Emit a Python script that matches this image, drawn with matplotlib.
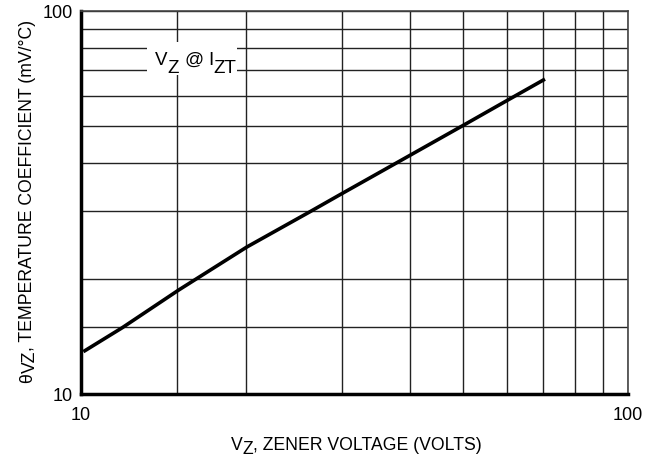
import matplotlib
matplotlib.use("Agg")
import matplotlib.pyplot as plt
from matplotlib.ticker import FixedLocator, NullFormatter
from matplotlib.transforms import IdentityTransform
from matplotlib.patches import Rectangle

plt.rcParams['font.family'] = ['Liberation Sans', 'DejaVu Sans']

# Data
vz = [10.1, 11.9, 15.1, 20.1, 26.2, 29.7, 38.3, 50.0, 60.5, 70.5]
tc = [12.9, 14.9, 18.7, 24.2, 29.9, 33.1, 40.6, 50.3, 58.7, 66.4]

x_major = [10, 100]
y_major = [10, 100]
x_minor = [15, 20, 30, 40, 50, 60, 70, 80, 90]
y_minor = [15, 20, 30, 40, 50, 60, 70, 80, 90]

W, H = 653, 461
fig = plt.figure(figsize=(W / 100, H / 100), dpi=100)
ax = fig.add_axes([81 / W, 67 / H, 547 / W, 383 / H])
ax.set_xscale('log')
ax.set_yscale('log')
ax.set_xlim(10, 100)
ax.set_ylim(10, 100)

ax.xaxis.set_major_locator(FixedLocator(x_major))
ax.yaxis.set_major_locator(FixedLocator(y_major))
ax.xaxis.set_minor_locator(FixedLocator(x_minor))
ax.yaxis.set_minor_locator(FixedLocator(y_minor))
ax.xaxis.set_minor_formatter(NullFormatter())
ax.yaxis.set_minor_formatter(NullFormatter())
ax.set_xticklabels([str(v) for v in x_major])
ax.set_yticklabels([str(v) for v in y_major])

ax.tick_params(which='both', length=0, labelsize=13)
ax.tick_params(axis='x', pad=9)
ax.tick_params(axis='y', pad=6)

ax.grid(True, which='both', color='#222222', linewidth=1.0)
ax.set_axisbelow(True)

for s in ['top', 'right']:
    ax.spines[s].set_color('#444444')
    ax.spines[s].set_linewidth(1.2)
for s in ['left', 'bottom']:
    ax.spines[s].set_color('black')
    ax.spines[s].set_linewidth(2.5)

ax.plot(vz, tc, color='black', linewidth=2.6, solid_capstyle='butt', zorder=3)

renderer = fig.canvas.get_renderer()


def text_width(s, size):
    t = fig.text(0, 0, s, fontsize=size)
    w = t.get_window_extent(renderer).width
    t.remove()
    return w


def run_text(x0, y0, runs, size, rotation=0, align='left', zorder=5):
    """runs: list of (string, sub_offset_px, gap_before_px)."""
    widths = [text_width(s, size) for s, _, _ in runs]
    total = sum(widths) + sum(g for _, _, g in runs)
    start = x0 - total / 2 if align == 'center' else x0
    pos = 0.0
    for (s, off, gap), w in zip(runs, widths):
        pos += gap
        if rotation == 0:
            px, py = start + pos, y0 - off
        else:
            px, py = x0 + off, (y0 - total / 2 if align == 'center' else y0) + pos
        fig.text(px, py, s, fontsize=size, transform=IdentityTransform(),
                 rotation=rotation, rotation_mode='anchor',
                 ha='left', va='baseline', zorder=zorder)
        pos += w


# label box inside the plot
fig.add_artist(Rectangle((147, H - 75), 90, 33, transform=IdentityTransform(),
                         facecolor='white', edgecolor='none', zorder=4))
bs = 13.5
sp = text_width('a a', bs) - text_width('aa', bs)
run_text(155, H - 65, [('V', 0, 0), ('Z', 8, 0), ('@', 0, sp), ('I', 0, sp), ('ZT', 8, 0)], bs)

# x-axis label
run_text(356, 11, [('V', 0, 0), ('Z', 4, 0), (', ZENER VOLTAGE (VOLTS)', 0, 0)], 12.7, align='center')

# y-axis label (rotated)
run_text(32, H - 201, [('θ', 0, 0), ('VZ', 3, 0), (', TEMPERATURE COEFFICIENT (mV/°C)', 0, 0)],
         12.7, rotation=90, align='center')

fig.savefig('out.png', dpi=100)
